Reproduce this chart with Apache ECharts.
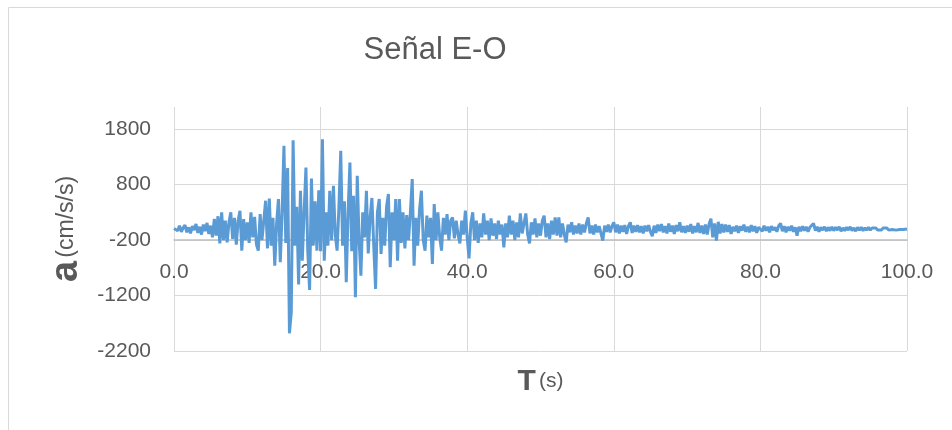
<!DOCTYPE html>
<html>
<head>
<meta charset="utf-8">
<script src="https://cdn.jsdelivr.net/npm/echarts@6/dist/echarts.min.js"></script>
<style>html,body{margin:0;padding:0;background:#fff}#c{width:952px;height:430px}</style>
</head>
<body>
<div id="c"></div>
<script>
const title = 'Señal E-O';
const dt = 0.25; // sampling step (s) of the digitized record
const yTicks = [-2200, -1200, -200, 800, 1800];
const xTicks = [0, 20, 40, 60, 80, 100];
// acceleration (cm/s/s), one row = 5 s
const accel = [
  10, 40, -30, 60, -50, 20, 70, -60, 30, -80, 50, -20, 90, -70, 40, -100, 80, -40, 110, -90,
  60, -150, 180, -120, 230, -260, 300, -200, 150, -240, 120, 300, -180, 200, -280, 150, 330, -390, 180, -200,
  120, -250, 300, -150, 220, -280, -390, 270, -200, 150, 510, -350, 550, -300, 200, -660, 100, 540, -600, 300,
  1500, -250, 1100, -1880, -1500, 1600, -300, 400, -1000, 690, -570, 300, 1110, -400, -1100, 910, -300, 500, -390, 700,
  -400, 1620, -570, 300, -300, 690, -200, 780, -100, -390, 400, 1410, -300, 500, -960, 300, 1200, -400, 600, -1230,
  960, -200, -840, 300, -150, 690, -440, 200, 560, -300, -1080, 300, 540, -450, 200, -300, 400, 630, -690, 300,
  -200, 540, -570, 540, -250, 300, -350, 250, -200, 300, 900, -660, 200, -300, 350, 690, -200, -390, 240, -150,
  200, -630, 450, -200, 300, -150, -390, 200, -100, 270, -200, 150, 210, -170, 150, -100, -260, 150, -100, 330,
  -150, -530, 100, 300, -200, 150, -250, 100, -150, 280, -100, 150, -200, 190, -120, 100, -180, 150, -100, 80,
  -330, 100, -150, 240, -100, 150, -200, 120, -150, 280, -80, 100, 280, -100, -260, 120, -100, 190, -150, 100,
  -120, 150, 240, -150, 100, -180, 150, -100, 210, -120, 210, -150, 100, -100, -240, 80, -60, 120, -100, 60,
  -80, 100, -100, 80, -60, 100, 210, -80, 60, -100, 80, -60, 50, -80, -210, 60, -50, 80, -60, 50,
  120, -60, 80, -80, 60, -50, 70, -90, 50, 120, -70, 60, -50, 70, -60, 50, -80, 60, -40, 70,
  -50, -130, 60, -70, 80, -40, 90, -60, 50, -80, 100, -50, 60, -90, 70, -40, 120, -60, 50, -70,
  60, -50, 90, -80, 50, -60, 110, -70, 60, -90, 80, -100, 90, 185, -150, 100, -210, 130, -80, 90,
  -60, 80, -50, 70, -90, 40, -40, 60, -70, 50, -30, 80, -50, 40, -60, 70, -40, 50, -70, 30,
  50, -40, 60, -30, 40, -60, 50, -20, 30, -50, 60, 100, -40, 50, -60, 40, -30, 60, -50, 30,
  -120, 40, -40, 50, -30, 40, -50, 30, 60, 100, -30, 40, -50, 30, -20, 40, -40, 30, -30, 40,
  -30, 30, -20, 40, -40, 20, -30, 30, -20, 40, -30, 20, -40, 30, -20, 30, -30, 20, -20, 30,
  -20, 20, -10, 20, -20, 10, -20, 20, -10, 20, -20, 10, -10, 20, -20, 10, -10, 20, -10, 10,
  0
];
const seriesData = accel.map((v, i) => [+(i * dt).toFixed(2), v]);

const chart = echarts.init(document.getElementById('c'), null, {renderer: 'canvas'});
const font = 'Liberation Sans';
chart.setOption({
  animation: false,
  backgroundColor: '#ffffff',
  textStyle: {fontFamily: font},
  title: {
    text: title, left: 430, top: 30, textAlign: 'center',
    textStyle: {fontFamily: font, fontSize: 31, fontWeight: 'normal', color: '#595959'}
  },
  graphic: [{
    type: 'rect', silent: true, z: -1,
    shape: {x: 8.5, y: 7.5, width: 1000, height: 600},
    style: {fill: 'none', stroke: '#D9D9D9', lineWidth: 1}
  }],
  grid: {left: 174, right: 45, top: 107, bottom: 79, containLabel: false},
  xAxis: {
    type: 'value', min: 0, max: 100, interval: 20,
    offset: -111.5,
    axisLine: {show: true, onZero: false, lineStyle: {color: '#BFBFBF', width: 1.5}},
    axisTick: {show: false},
    axisLabel: {margin: 22, fontSize: 21, color: '#595959', fontFamily: font,
      formatter: v => v.toFixed(1)},
    splitLine: {show: true, lineStyle: {color: '#D9D9D9', width: 1}},
    name: '{b|T} {n|(s)}', nameLocation: 'middle', nameGap: 127,
    nameTextStyle: {rich: {
      b: {fontSize: 30, fontWeight: 'bold', color: '#595959', fontFamily: font},
      n: {fontSize: 21, color: '#595959', fontFamily: font}
    }}
  },
  yAxis: {
    type: 'value', min: -2200, max: 2200,
    axisLine: {show: false},
    axisTick: {show: false, customValues: yTicks},
    axisLabel: {customValues: yTicks, margin: 23, fontSize: 21, color: '#595959', fontFamily: font,
      formatter: v => String(v)},
    splitLine: {show: true, lineStyle: {color: '#D9D9D9', width: 1}},
    name: '{b|a} {n|(cm/s/s)}', nameLocation: 'middle', nameRotate: 90, nameGap: 88,
    nameTextStyle: {rich: {
      b: {fontSize: 38, fontWeight: 'bold', color: '#595959', fontFamily: font},
      n: {fontSize: 23, color: '#595959', fontFamily: font}
    }}
  },
  series: [{
    type: 'line', data: seriesData, showSymbol: false, symbol: 'none',
    lineStyle: {color: '#5B9BD5', width: 3}, z: 3
  }]
});
</script>
</body>
</html>
